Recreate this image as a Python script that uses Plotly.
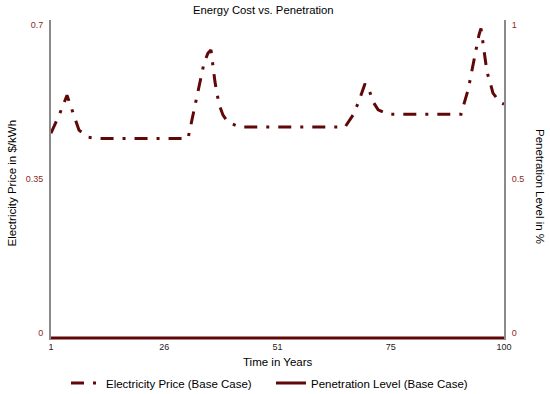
import plotly.graph_objects as go

# ---- data ----
price_years = [1.0, 2.97, 4.5, 6.24, 7.12, 9.09, 11.27, 30.94,
               34.44, 35.31, 35.96, 36.84, 37.71, 38.59, 39.68, 42.30, 65.25,
               67.0, 68.15, 69.62, 70.56, 71.4, 72.5, 74.65, 90.6,
               92.19, 93.5, 94.53, 94.97, 95.63, 96.28, 96.94, 97.59, 99.12, 100.0]
price_values = [0.465, 0.511, 0.551, 0.500, 0.472, 0.456, 0.453, 0.453,
                0.624, 0.647, 0.654, 0.581, 0.531, 0.506, 0.490, 0.479, 0.479,
                0.506, 0.534, 0.577, 0.562, 0.536, 0.518, 0.508, 0.508,
                0.565, 0.639, 0.688, 0.703, 0.658, 0.604, 0.581, 0.556, 0.535, 0.531]

pen_years = [1, 100]
pen_values = [0.0, 0.0]

x_tickvals = [1, 25.75, 50.5, 75.25, 100]
x_ticktext = ["1", "26", "51", "75", "100"]
y1_tickvals = [0, 0.35, 0.7]
y1_ticktext = ["0", "0.35", "0.7"]
y2_tickvals = [0, 0.5, 1]
y2_ticktext = ["0", "0.5", "1"]

LINE = "#600808"
TICKC = "#8b2a2a"
FONT = "Liberation Sans, Arial, sans-serif"

fig = go.Figure()
fig.add_trace(go.Scatter(
    x=price_years, y=price_values, mode="lines",
    name="Electricity Price (Base Case)",
    line=dict(color=LINE, width=3, dash="13px,9px,3px,9px"),
    yaxis="y"))
fig.add_trace(go.Scatter(
    x=pen_years, y=pen_values, mode="lines",
    name="Penetration Level (Base Case)",
    line=dict(color=LINE, width=3),
    yaxis="y2"))

W, H = 550, 394
L, R, T, B = 51, 46, 20, 54

def px(xp):
    return (xp - L) / (W - L - R)

def py(yp):
    return (H - B - yp) / (H - T - B)

def ann(text, x, y, size=11.5, angle=0):
    return dict(text=text, xref="paper", yref="paper", x=px(x), y=py(y),
                xanchor="center", yanchor="middle", showarrow=False,
                textangle=angle, font=dict(size=size, color="#000"))

fig.update_layout(
    width=W, height=H,
    margin=dict(l=L, r=R, t=T, b=B, pad=0, autoexpand=False),
    paper_bgcolor="white", plot_bgcolor="white",
    font=dict(family=FONT, size=11.5, color="#000"),
    showlegend=True,
    legend=dict(orientation="h", x=px(66), xanchor="left",
                y=py(383), yanchor="middle",
                font=dict(size=11.5, color="#000"),
                bgcolor="rgba(0,0,0,0)", entrywidth=160, entrywidthmode="pixels"),
    xaxis=dict(range=[1, 100], tickmode="array", tickvals=x_tickvals,
               ticktext=x_ticktext, showgrid=False, zeroline=False,
               showline=False, ticks="", automargin=False,
               tickfont=dict(size=9, color="#222")),
    yaxis=dict(range=[-0.0045, 0.722], tickmode="array", tickvals=y1_tickvals,
               ticktext=y1_ticktext, showgrid=False, zeroline=False,
               showline=True, linecolor="#8a8a8a", linewidth=2, automargin=False,
               ticks="", ticklabelstandoff=4, ticklabelshift=-5,
               tickfont=dict(size=9, color=TICKC)),
    yaxis2=dict(range=[-0.0064, 1.031], overlaying="y", side="right",
                tickmode="array", tickvals=y2_tickvals, ticktext=y2_ticktext,
                showgrid=False, zeroline=False, showline=True, automargin=False,
                linecolor="#8a8a8a", linewidth=2, ticks="",
                ticklabelstandoff=4, ticklabelshift=-5,
                tickfont=dict(size=9, color=TICKC)),
    annotations=[
        ann("Energy Cost vs. Penetration", 263.5, 10, size=11.3),
        ann("Electricity Price in $/kWh", 11.5, 183, angle=-90),
        ann("Penetration Level in %", 540, 186, angle=90),
        ann("Time in Years", 277.7, 362),
    ],
)

fig.write_html("out.html", config={"displayModeBar": False},
               post_script="document.body.style.margin='0';document.body.style.padding='0';")
